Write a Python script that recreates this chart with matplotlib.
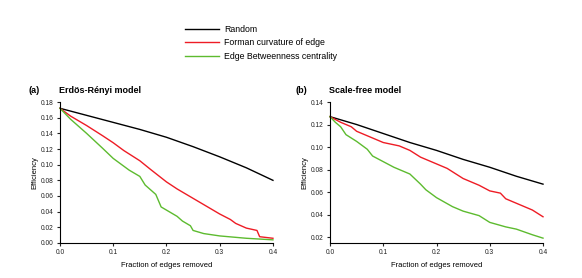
import matplotlib
matplotlib.use("Agg")
from matplotlib import pyplot as plt

plt.rcParams['font.family'] = ['Liberation Sans', 'DejaVu Sans']

# Erdos-Renyi panel
er_x_random = [0.0, 0.05, 0.1, 0.15, 0.2, 0.25, 0.3, 0.35, 0.4]
er_random = [0.172, 0.163, 0.154, 0.145, 0.135, 0.123, 0.110, 0.096, 0.080]
er_x_forman = [0.0, 0.02, 0.05, 0.08, 0.1, 0.12, 0.15, 0.17, 0.2, 0.22, 0.25, 0.27,
               0.3, 0.32, 0.33, 0.35, 0.37, 0.375, 0.4]
er_forman = [0.172, 0.162, 0.150, 0.137, 0.128, 0.118, 0.105, 0.094, 0.078, 0.069,
             0.057, 0.049, 0.037, 0.030, 0.025, 0.019, 0.016, 0.008, 0.006]
er_x_betw = [0.0, 0.02, 0.05, 0.08, 0.1, 0.13, 0.15, 0.16, 0.18, 0.19, 0.2, 0.22,
             0.23, 0.245, 0.25, 0.27, 0.3, 0.35, 0.4]
er_betw = [0.172, 0.158, 0.140, 0.121, 0.108, 0.093, 0.085, 0.074, 0.062, 0.046,
           0.042, 0.034, 0.028, 0.022, 0.016, 0.012, 0.009, 0.006, 0.004]

# Scale-free panel
sf_x_random = [0.0, 0.05, 0.1, 0.15, 0.2, 0.25, 0.3, 0.35, 0.4]
sf_random = [0.127, 0.120, 0.112, 0.104, 0.097, 0.089, 0.082, 0.074, 0.067]
sf_x_forman = [0.0, 0.02, 0.04, 0.05, 0.07, 0.1, 0.13, 0.15, 0.17, 0.2, 0.22, 0.25,
               0.28, 0.3, 0.32, 0.33, 0.35, 0.38, 0.4]
sf_forman = [0.127, 0.122, 0.118, 0.114, 0.110, 0.104, 0.101, 0.097, 0.091, 0.085,
             0.081, 0.072, 0.066, 0.061, 0.059, 0.054, 0.050, 0.044, 0.038]
sf_x_betw = [0.0, 0.01, 0.02, 0.03, 0.05, 0.07, 0.08, 0.1, 0.12, 0.15, 0.17, 0.18,
             0.2, 0.23, 0.25, 0.28, 0.3, 0.33, 0.35, 0.38, 0.4]
sf_betw = [0.127, 0.122, 0.118, 0.111, 0.105, 0.098, 0.092, 0.087, 0.082, 0.076,
           0.067, 0.062, 0.055, 0.047, 0.043, 0.039, 0.033, 0.029, 0.027, 0.022, 0.019]

labels = ["Random", "Forman curvature of edge", "Edge Betweenness centrality"]
colors = ["#000000", "#ee1c25", "#5dbb2f"]

x_ticks = [0.0, 0.1, 0.2, 0.3, 0.4]


def style_axes(ax, yticks, ylim):
    for side in ("top", "right"):
        ax.spines[side].set_visible(False)
    ax.spines["left"].set_linewidth(0.8)
    ax.spines["bottom"].set_linewidth(0.8)
    ax.set_xlim(0, 0.4)
    ax.set_ylim(*ylim)
    ax.set_xticks(x_ticks)
    ax.set_xticklabels([f"{t:.1f}" for t in x_ticks])
    ax.set_yticks(yticks)
    ax.set_yticklabels([f"{t:.2f}" for t in yticks])
    ax.tick_params(labelsize=4.8, length=2.5, width=0.8, pad=2, colors="#222222")
    ax.set_xlabel("Fraction of edges removed", fontsize=5.5, labelpad=4)
    ax.set_ylabel("Efficiency", fontsize=5.5, labelpad=2)


fig = plt.figure(figsize=(5.82, 2.78), dpi=100)
ax1 = fig.add_axes([0.103, 0.126, 0.366, 0.507])
ax2 = fig.add_axes([0.567, 0.126, 0.366, 0.507])

lines = []
for ax, xs, ys in (
    (ax1, (er_x_random, er_x_forman, er_x_betw), (er_random, er_forman, er_betw)),
    (ax2, (sf_x_random, sf_x_forman, sf_x_betw), (sf_random, sf_forman, sf_betw)),
):
    handles = []
    for x, y, c, lab in zip(xs, ys, colors, labels):
        h, = ax.plot(x, y, color=c, lw=1.0, label=lab, clip_on=False)
        handles.append(h)
    lines = handles

style_axes(ax1, [0.0, 0.02, 0.04, 0.06, 0.08, 0.10, 0.12, 0.14, 0.16, 0.18], (0.0, 0.18))
style_axes(ax2, [0.02, 0.04, 0.06, 0.08, 0.10, 0.12, 0.14], (0.0147, 0.14))

fig.text(0.049, 0.674, "(a)", fontsize=6.5, fontweight="bold", va="center")
fig.text(0.102, 0.674, "Erdös-Rényi model", fontsize=6.5, fontweight="bold", va="center")
fig.text(0.508, 0.674, "(b)", fontsize=6.5, fontweight="bold", va="center")
fig.text(0.565, 0.674, "Scale-free model", fontsize=6.5, fontweight="bold", va="center")

fig.legend(lines, labels, loc="upper left", bbox_to_anchor=(0.318, 0.91),
           frameon=False, fontsize=6.3, handlelength=3.9, handletextpad=0.6,
           labelspacing=0.5, borderaxespad=0, borderpad=0)

fig.savefig("out.png", dpi=100)
